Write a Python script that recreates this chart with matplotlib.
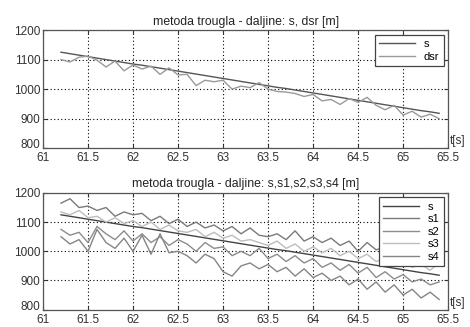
import matplotlib
matplotlib.use("Agg")
import matplotlib.pyplot as plt
from matplotlib.transforms import ScaledTranslation

plt.rcParams['font.family'] = ['Liberation Sans', 'DejaVu Sans']

t = [61.2, 61.3, 61.4, 61.5, 61.6, 61.7, 61.8, 61.9, 62.0, 62.1, 62.2, 62.3, 62.4, 62.5,
     62.6, 62.7, 62.8, 62.9, 63.0, 63.1, 63.2, 63.3, 63.4, 63.5, 63.6, 63.7, 63.8, 63.9,
     64.0, 64.1, 64.2, 64.3, 64.4, 64.5, 64.6, 64.7, 64.8, 64.9, 65.0, 65.1, 65.2, 65.3, 65.4]

s = [1125, 1120, 1115, 1110, 1105, 1100, 1095, 1090, 1085, 1081, 1076, 1071, 1066, 1061,
     1056, 1051, 1046, 1041, 1036, 1031, 1026, 1021, 1016, 1011, 1006, 1002, 997, 992,
     987, 982, 977, 972, 967, 962, 957, 952, 947, 942, 937, 932, 927, 923, 918]

dsr = [1100, 1092, 1108, 1112, 1098, 1075, 1095, 1062, 1082, 1068, 1078, 1050, 1072, 1048,
       1050, 1012, 1030, 1025, 1030, 1000, 1010, 1005, 1022, 1000, 992, 990, 985, 975,
       982, 960, 965, 948, 968, 955, 972, 945, 930, 945, 912, 925, 905, 915, 900]

s1 = [1165, 1180, 1150, 1155, 1140, 1150, 1120, 1135, 1125, 1130, 1105, 1120, 1095, 1110,
      1085, 1100, 1080, 1090, 1070, 1085, 1060, 1080, 1055, 1050, 1060, 1040, 1070, 1035,
      1050, 1030, 1045, 1020, 1035, 1000, 1030, 1005, 1015, 985, 1000, 975, 990, 960, 970]

s2 = [1075, 1055, 1065, 1030, 1085, 1060, 1040, 1070, 1035, 1060, 1030, 1050, 1020, 1040,
      1025, 1000, 1030, 1010, 1015, 985, 1000, 985, 1010, 975, 990, 965, 985, 960,
      975, 945, 960, 935, 955, 925, 945, 910, 930, 905, 920, 895, 905, 885, 895]

s3 = [1135, 1125, 1140, 1115, 1120, 1100, 1115, 1095, 1105, 1085, 1100, 1075, 1090, 1070,
      1065, 1075, 1050, 1065, 1045, 1055, 1035, 1040, 1030, 1020, 1035, 1010, 1025, 1000,
      1015, 995, 1010, 985, 1000, 975, 990, 965, 975, 955, 970, 945, 955, 935, 960]

s4 = [1050, 1025, 1040, 1000, 1075, 1030, 1010, 1045, 1000, 1055, 990, 1060, 995, 1000,
      985, 960, 990, 975, 930, 915, 950, 960, 940, 955, 930, 945, 915, 940,
      910, 925, 900, 915, 885, 905, 870, 895, 860, 885, 850, 870, 840, 860, 835]

xticks = [61, 61.5, 62, 62.5, 63, 63.5, 64, 64.5, 65, 65.5]
xticklabels = ['61', '61.5', '62', '62.5', '63', '63.5', '64', '64.5', '65', '65.5']
yticks = [800, 900, 1000, 1100, 1200]

title1 = 'metoda trougla - daljine: s, dsr [m]'
title2 = 'metoda trougla - daljine: s,s1,s2,s3,s4 [m]'

fig = plt.figure(figsize=(4.7, 3.27), dpi=100)
ax1 = fig.add_axes([0.0915, 0.547, 0.862, 0.361])
ax2 = fig.add_axes([0.0915, 0.053, 0.862, 0.357])


def style(ax, title):
    ax.set_xlim(61, 65.5)
    ax.set_ylim(800, 1200)
    ax.set_xticks(xticks)
    ax.set_xticklabels(xticklabels)
    ax.set_yticks(yticks)
    ax.tick_params(direction='in', length=3, labelsize=8.5, colors='#333333',
                   top=True, right=True, pad=2)
    ax.tick_params(axis='x', pad=3)
    ax.grid(True, color='black', linestyle=(0, (1, 2.2)), linewidth=0.8)
    for sp in ax.spines.values():
        sp.set_color('#555555')
        sp.set_linewidth(0.9)
    ax.set_title(title, fontsize=8.8, color='#222222', pad=4)
    ax.text(1.004, 0.01, 't[s]', transform=ax.transAxes, fontsize=8.5,
            color='#333333', ha='left', va='bottom')
    lab = ax.get_yticklabels()[0]
    lab.set_transform(lab.get_transform() + ScaledTranslation(0, 3 / 72, fig.dpi_scale_trans))


ax1.plot(t, s, color='#555555', linewidth=1.0, label='s')
ax1.plot(t, dsr, color='#9a9a9a', linewidth=1.0, label='dsr')
style(ax1, title1)
leg1 = ax1.legend(loc='upper right', fontsize=8, handlelength=3.2, borderpad=0.4,
                  labelspacing=0.25, fancybox=False, framealpha=1, borderaxespad=0.4)
leg1.get_frame().set_edgecolor('#444444')
leg1.get_frame().set_linewidth(0.9)

ax2.plot(t, s, color='#444444', linewidth=1.0, label='s')
ax2.plot(t, s1, color='#7a7a7a', linewidth=1.0, label='s1')
ax2.plot(t, s2, color='#8c8c8c', linewidth=1.0, label='s2')
ax2.plot(t, s3, color='#bdbdbd', linewidth=1.0, label='s3')
ax2.plot(t, s4, color='#858585', linewidth=1.0, label='s4')
style(ax2, title2)
leg2 = ax2.legend(loc='upper right', fontsize=8, handlelength=3.2, borderpad=0.4,
                  labelspacing=0.22, fancybox=False, framealpha=1, borderaxespad=0.4)
leg2.get_frame().set_edgecolor('#444444')
leg2.get_frame().set_linewidth(0.9)

fig.savefig('out.png', dpi=100)
